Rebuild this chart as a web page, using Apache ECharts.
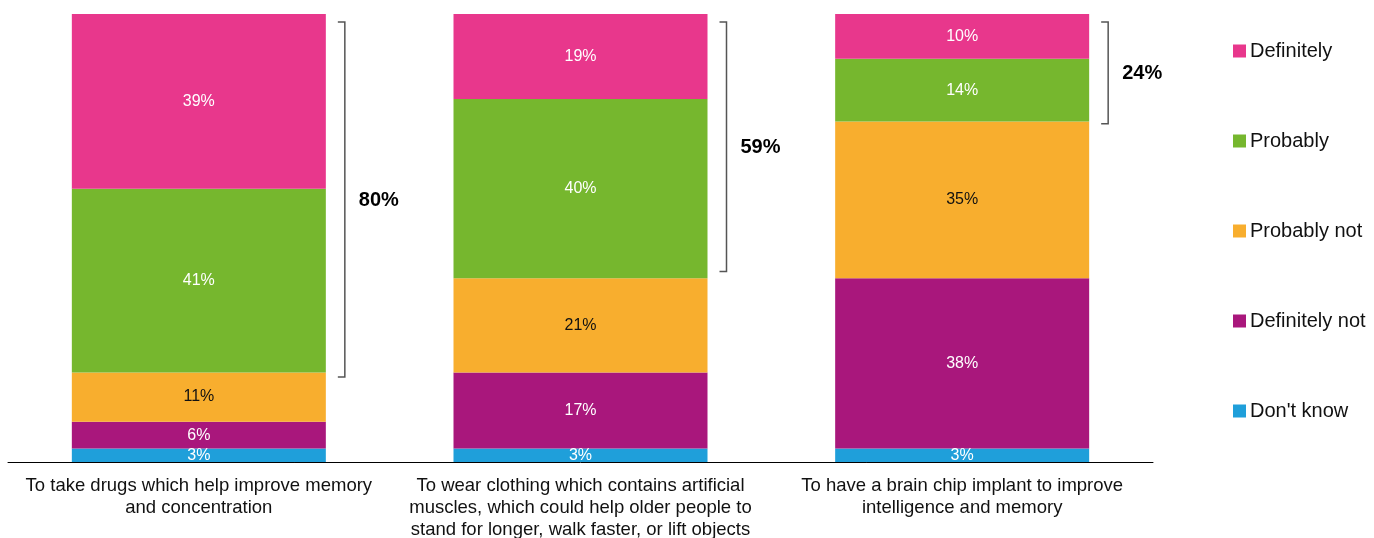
<!DOCTYPE html>
<html>
<head>
<meta charset="utf-8">
<script src="https://cdn.jsdelivr.net/npm/echarts@6/dist/echarts.min.js"></script>
<style>
html,body{margin:0;padding:0;background:#fff;}
#c{width:1374px;height:538px;}
</style>
</head>
<body>
<div id="c"></div>
<script>
var categories = [
  "To take drugs which help improve memory\nand concentration",
  "To wear clothing which contains artificial\nmuscles, which could help older people to\nstand for longer, walk faster, or lift objects",
  "To have a brain chip implant to improve\nintelligence and memory"
];
var seriesNames = ["Definitely", "Probably", "Probably not", "Definitely not", "Don't know"];
var dontKnow = [3, 3, 3];
var definitelyNot = [6, 17, 38];
var probablyNot = [11, 21, 35];
var probably = [41, 40, 14];
var definitely = [39, 19, 10];
// bracket spans: [category index, low %, high %, label]
var brackets = [
  [0, 19, 98.2, "80%"],
  [1, 42.5, 98.2, "59%"],
  [2, 75.5, 98.2, "24%"]
];
var colors = {
  "Definitely": "#E8378C",
  "Probably": "#76B72E",
  "Probably not": "#F8AE2E",
  "Definitely not": "#A9177C",
  "Don't know": "#1F9FDA"
};
var labelColors = {
  "Definitely": "#fff",
  "Probably": "#fff",
  "Probably not": "#111",
  "Definitely not": "#fff",
  "Don't know": "#fff"
};
var FONT = "'Liberation Sans', Arial, sans-serif";
var BAR_W = 254;

function barSeries(name, data) {
  return {
    name: name,
    type: "bar",
    stack: "total",
    barWidth: BAR_W,
    data: data,
    itemStyle: { color: colors[name] },
    label: {
      show: true,
      position: "inside",
      formatter: "{c}%",
      color: labelColors[name],
      fontFamily: FONT,
      fontSize: 16
    },
    emphasis: { disabled: true }
  };
}

var chart = echarts.init(document.getElementById("c"), null, { renderer: "canvas" });
chart.setOption({
  animation: false,
  backgroundColor: "#fff",
  grid: { left: 8, right: 221, top: 14, bottom: 76, containLabel: false, outerBoundsMode: "none" },
  legend: {
    orient: "vertical",
    left: 1233,
    top: 41,
    padding: 0,
    itemGap: 70,
    itemWidth: 13,
    itemHeight: 13,
    icon: "rect",
    data: seriesNames,
    textStyle: { fontFamily: FONT, fontSize: 20, lineHeight: 20, color: "#111", padding: [0, 0, 0, -1] }
  },
  xAxis: {
    type: "category",
    data: categories,
    axisLine: { lineStyle: { color: "#000", width: 1 } },
    axisTick: { show: false },
    axisLabel: {
      interval: 0,
      margin: 13,
      fontFamily: FONT,
      fontSize: 18.5,
      lineHeight: 22,
      color: "#111",
      align: "center"
    }
  },
  yAxis: {
    type: "value",
    min: 0,
    max: 100,
    show: false,
    splitLine: { show: false }
  },
  series: [
    barSeries("Don't know", dontKnow),
    barSeries("Definitely not", definitelyNot),
    barSeries("Probably not", probablyNot),
    barSeries("Probably", probably),
    barSeries("Definitely", definitely),
    {
      type: "custom",
      name: "brackets",
      silent: true,
      data: brackets,
      encode: { x: 0, y: [1, 2] },
      renderItem: function (params, api) {
        var top = api.coord([api.value(0), api.value(2)]);
        var bot = api.coord([api.value(0), api.value(1)]);
        var x = top[0] + BAR_W / 2 + 19;
        var tick = 7;
        var label = brackets[params.dataIndex][3];
        return {
          type: "group",
          children: [
            {
              type: "polyline",
              shape: { points: [[x - tick, top[1]], [x, top[1]], [x, bot[1]], [x - tick, bot[1]]] },
              style: { stroke: "#555", lineWidth: 1.5, fill: null }
            },
            {
              type: "text",
              style: {
                x: x + 14,
                y: (top[1] + bot[1]) / 2 + 1,
                text: label,
                fill: "#000",
                font: "bold 20px " + FONT,
                textVerticalAlign: "middle",
                verticalAlign: "middle"
              }
            }
          ]
        };
      }
    }
  ]
});
</script>
</body>
</html>
